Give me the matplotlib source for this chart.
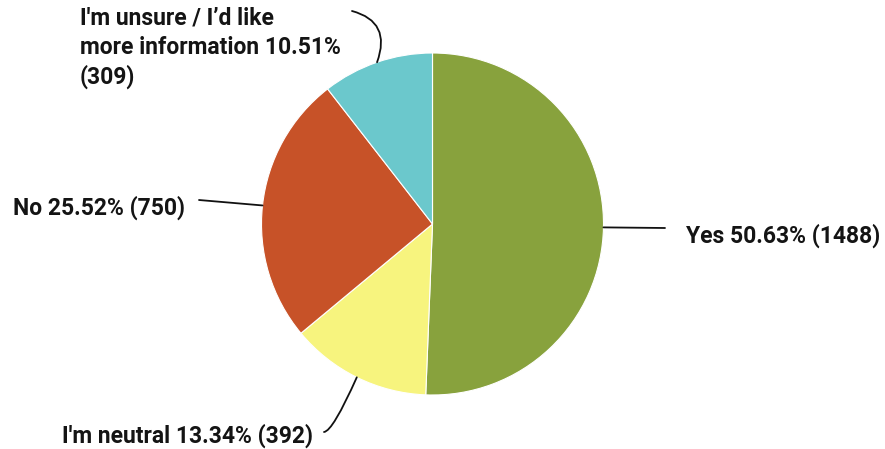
import numpy as np
import matplotlib
matplotlib.use("Agg")
import matplotlib.pyplot as plt

labels = ["Yes", "I'm neutral", "No", "I'm unsure / I\u2019d like\nmore information"]
percents = [50.63, 13.34, 25.52, 10.51]
counts = [1488, 392, 750, 309]
colors = ["#88a23d", "#f7f47e", "#c75228", "#6bc8cc"]

W, H = 885, 449
fig = plt.figure(figsize=(W / 100, H / 100), dpi=100)
ax = fig.add_axes([0, 0, 1, 1])

cx, cy, r = 432.5, H - 224, 171
wedges, _ = ax.pie(percents, colors=colors, startangle=90, counterclock=False,
                   center=(cx, cy), radius=r, frame=True,
                   wedgeprops=dict(edgecolor="white", linewidth=0.8))
ax.set_xlim(0, W)
ax.set_ylim(0, H)
ax.set_aspect("equal")
ax.axis("off")

# text layout (pixel coordinates, y from top)
text_pos = [(686, 236), (62, 436), (13, 208), (80, 48)]
line_end = [(665, 228, "arc3,rad=0"),
            (324, 432, "angle3,angleA=5,angleB=66"),
            (199, 200, "arc3,rad=0"),
            (352, 11, "angle3,angleA=-15,angleB=70")]

font = dict(family=["Roboto", "DejaVu Sans"], fontweight="bold", fontsize=16.5, color="#141414")

for i, (w, lab, p, c, tp, le) in enumerate(zip(wedges, labels, percents, counts, text_pos, line_end)):
    ang = np.deg2rad((w.theta1 + w.theta2) / 2)
    px, py = cx + r * np.cos(ang), cy + r * np.sin(ang)
    ax.annotate("", xy=(px, py), xytext=(le[0], H - le[1]),
                arrowprops=dict(arrowstyle="-", color="#111111", lw=1.3,
                                connectionstyle=le[2], shrinkA=0, shrinkB=0))
    txt = f"{lab} {p:.2f}%" + ("\n" if i == 3 else " ") + f"({c})"
    ax.text(tp[0], H - tp[1], txt, ha="left", va="center",
            linespacing=1.33, **font)

fig.savefig("out.png", dpi=100)
